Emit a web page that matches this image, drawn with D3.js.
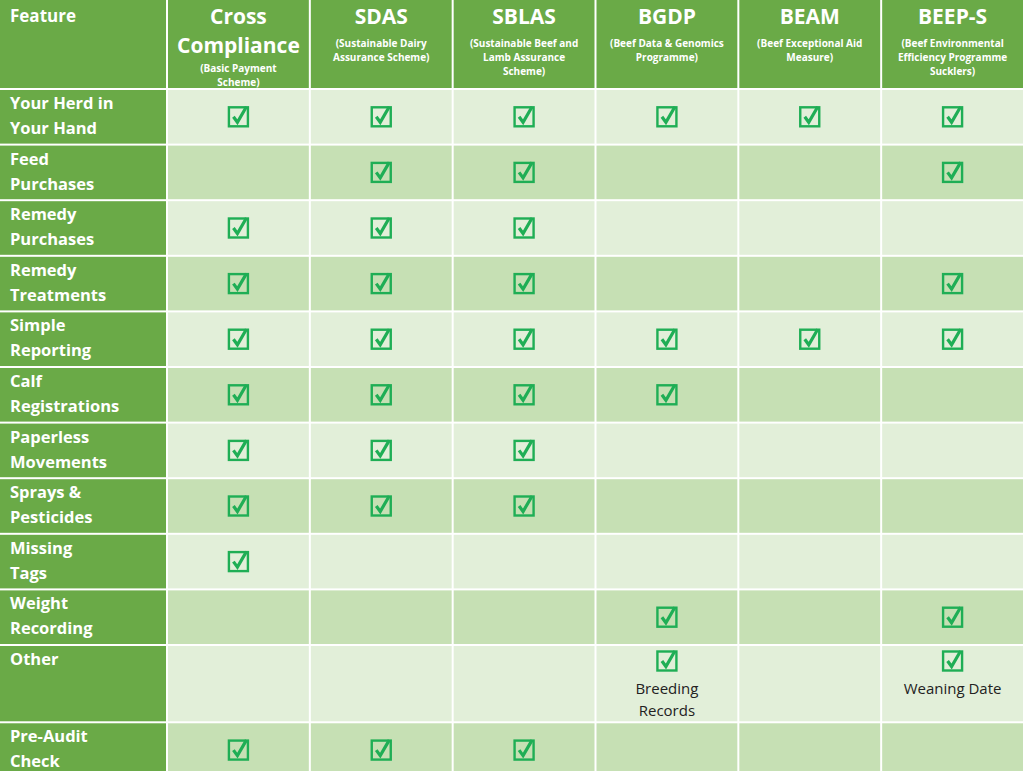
<!DOCTYPE html>
<html><head><meta charset="utf-8">
<script src="https://cdn.jsdelivr.net/npm/d3@7"></script>
<style>body{margin:0;background:#fff}svg{display:block}</style>
</head><body><svg id="c" width="1024" height="771"></svg>
<script>
const schemes = ["Cross Compliance","SDAS","SBLAS","BGDP","BEAM","BEEP-S"];
const schemeTitleLines = [["Cross","Compliance"],["SDAS"],["SBLAS"],["BGDP"],["BEAM"],["BEEP-S"]];
const schemeSubtitles = [["(Basic Payment","Scheme)"],["(Sustainable Dairy","Assurance Scheme)"],["(Sustainable Beef and","Lamb Assurance","Scheme)"],["(Beef Data & Genomics","Programme)"],["(Beef Exceptional Aid","Measure)"],["(Beef Environmental","Efficiency Programme","Sucklers)"]];
const features = [["Your Herd in","Your Hand"],["Feed","Purchases"],["Remedy","Purchases"],["Remedy","Treatments"],["Simple","Reporting"],["Calf","Registrations"],["Paperless","Movements"],["Sprays &","Pesticides"],["Missing","Tags"],["Weight","Recording"],["Other"],["Pre-Audit","Check"]];
const checks = [
 [1,1,1,1,1,1],
 [0,1,1,0,0,1],
 [1,1,1,0,0,0],
 [1,1,1,0,0,1],
 [1,1,1,1,1,1],
 [1,1,1,1,0,0],
 [1,1,1,0,0,0],
 [1,1,1,0,0,0],
 [1,0,0,0,0,0],
 [0,0,0,1,0,1],
 [0,0,0,1,0,1],
 [1,1,1,0,0,0]];
const notes = {"10-3":["Breeding","Records"],"10-5":["Weaning Date"]};
const rowWeights = [1,1,1,1,1,1,1,1,1,1,1.39,1];

const svg = d3.select("#c");
const W=1024,H=771, featW=167, headH=89;
const x = d3.scaleBand().domain(d3.range(schemes.length)).range([featW,W]);
const totalW = d3.sum(rowWeights);
const cum = [0]; rowWeights.forEach(w=>cum.push(cum[cum.length-1]+w));
const unit = 55.6;
const y = d3.scaleLinear().domain([0,1]).range([headH, headH+unit]);
const rowTop = i=>y(cum[i]), rowH=i=>y(cum[i+1])-y(cum[i]);
const green="#6aaa47", light="#e2efd9", dark="#c6e0b4", chk="#1fae55";
const font="'Open Sans', Calibri, sans-serif";

svg.append("rect").attr("width",W).attr("height",H).attr("fill","#fff");
// header
svg.append("rect").attr("x",0).attr("y",0).attr("width",featW-1).attr("height",headH-1).attr("fill",green);
svg.append("text").attr("x",10).attr("y",22).attr("fill","#fff").attr("font-family",font).attr("font-weight",700).attr("font-size",17).text("Feature");
schemes.forEach((s,j)=>{
  const cx=x(j)+x.bandwidth()/2;
  svg.append("rect").attr("x",x(j)+1).attr("y",0).attr("width",x.bandwidth()-2).attr("height",headH-1).attr("fill",green);
  const t=schemeTitleLines[j];
  t.forEach((l,k)=>svg.append("text").attr("x",cx).attr("y",24+k*29).attr("text-anchor","middle").attr("fill","#fff").attr("font-family",font).attr("font-weight",700).attr("font-size",21).text(l));
  const sy = t.length>1?72:47;
  schemeSubtitles[j].forEach((l,k)=>svg.append("text").attr("x",cx).attr("y",sy+k*14).attr("text-anchor","middle").attr("fill","#fff").attr("font-family",font).attr("font-weight",700).attr("font-size",10).text(l));
});
// rows
features.forEach((f,i)=>{
  const ty=rowTop(i), h=rowH(i);
  svg.append("rect").attr("x",0).attr("y",ty+1).attr("width",featW-1).attr("height",h-2).attr("fill",green);
  f.forEach((l,k)=>svg.append("text").attr("x",10).attr("y",ty+20+k*25).attr("fill","#fff").attr("font-family",font).attr("font-weight",700).attr("font-size",16.5).text(l));
  schemes.forEach((s,j)=>{
    svg.append("rect").attr("x",x(j)+1).attr("y",ty+1).attr("width",x.bandwidth()-2).attr("height",h-2).attr("fill",i%2?dark:light);
    const cx=x(j)+x.bandwidth()/2;
    if(checks[i][j]){
      const cy = notes[i+"-"+j]? ty+16 : ty+h/2;
      const g=svg.append("g").attr("transform",`translate(${cx},${cy})`);
      g.append("rect").attr("x",-9.5).attr("y",-9.5).attr("width",19).attr("height",19).attr("fill","none").attr("stroke",chk).attr("stroke-width",2.4);
      g.append("path").attr("d","M-5,0 L-1,5.5 L8,-10").attr("fill","none").attr("stroke",chk).attr("stroke-width",3.2).attr("stroke-linejoin","miter");
    }
    const n=notes[i+"-"+j];
    if(n) n.forEach((l,k)=>svg.append("text").attr("x",cx).attr("y",ty+49+k*22).attr("text-anchor","middle").attr("fill","#222").attr("font-family",font).attr("font-size",15).text(l));
  });
});
</script></body></html>
